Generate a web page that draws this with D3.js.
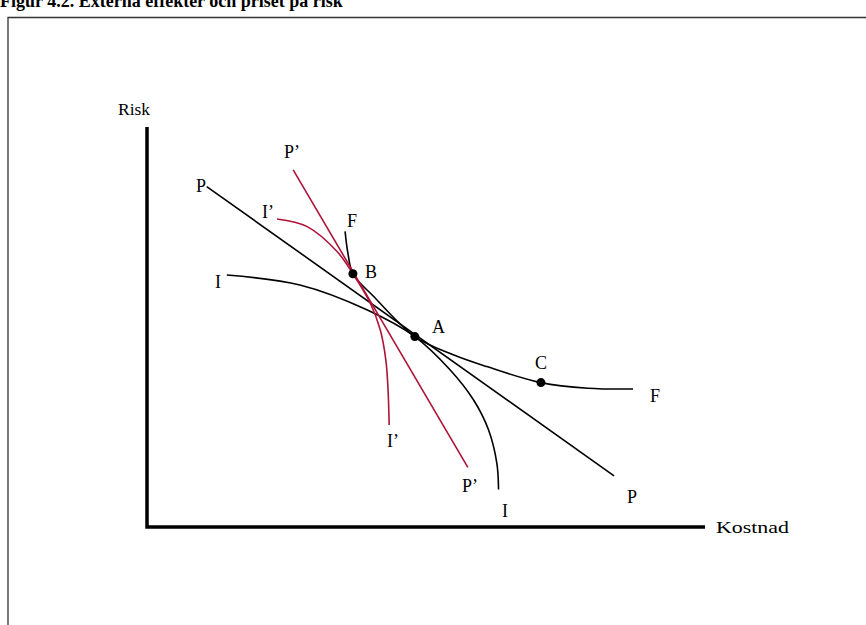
<!DOCTYPE html>
<html>
<head>
<meta charset="utf-8">
<script src="https://cdn.jsdelivr.net/npm/d3@7"></script>
<style>
  html, body { margin: 0; padding: 0; background: #fff; }
  svg { display: block; }
  text { font-family: "Liberation Serif", "Times New Roman", serif; fill: #000; }
</style>
</head>
<body>
<svg id="chart" width="866" height="625"></svg>
<script>
// ---- Data (Kostnad on x, Risk on y; arbitrary units 0–10) ----
const title = "Figur 4.2. Externa effekter och priset på risk";
const xLabel = "Kostnad";
const yLabel = "Risk";

// Price line P
const lineP = [[1.07, 8.51], [8.37, 1.28]];
// Price line P'
const linePprime = [[2.62, 8.93], [5.75, 1.49]];

// Frontier F
const curveF = [[3.55, 7.39], [3.60, 6.85], [3.69, 6.33], [4.05, 5.78], [4.80, 4.76],
                [5.50, 4.30], [6.09, 4.01], [7.06, 3.61], [7.90, 3.47], [8.71, 3.45]];
// Indifference curve I
const curveI = [[1.43, 6.30], [2.74, 6.05], [3.94, 5.43], [4.80, 4.76], [5.43, 3.93],
                [5.85, 3.18], [6.12, 2.43], [6.27, 1.59], [6.30, 0.94]];
// Indifference curve I'
const curveIprime = [[2.33, 7.70], [2.87, 7.51], [3.41, 6.88], [3.69, 6.33], [4.00, 5.60],
                     [4.18, 4.93], [4.28, 4.18], [4.32, 3.43], [4.34, 2.55]];

// Points
const pointNames = ["B", "A", "C"];
const pointX = [3.69, 4.80, 7.06];
const pointY = [6.33, 4.76, 3.61];

// Curve labels
const labelText = ["P’", "P", "I’", "F", "B", "I", "A", "C", "F", "I’", "P’", "P", "I"];
const labelX = [2.455, 0.878, 2.061, 3.584, 3.907, 1.219, 5.108, 6.953, 9.014, 4.301, 5.645, 8.602, 6.362];
const labelY = [9.225, 8.375, 7.725, 7.50, 6.225, 5.975, 4.85, 3.95, 3.125, 2.0, 0.875, 0.60, 0.25];

// ---- Drawing ----
const svg = d3.select("#chart");
const red = "#ad1438";

const x = d3.scaleLinear().domain([0, 10]).range([147, 705]);
const y = d3.scaleLinear().domain([0, 10]).range([527, 127]);

// Title (cut off at top as in the source)
svg.append("text")
  .attr("x", 0).attr("y", 7)
  .attr("font-size", 18).attr("font-weight", "bold")
  .text(title);

// Frame
svg.append("path")
  .attr("d", "M8,640 V17.5 H880")
  .attr("fill", "none").attr("stroke", "#333").attr("stroke-width", 1.3);

// Axes
svg.append("path")
  .attr("d", `M${x(0)},${y(10)} V${y(0)} H${x(10)}`)
  .attr("fill", "none").attr("stroke", "#000").attr("stroke-width", 3.5)
  .attr("stroke-linejoin", "miter");

svg.append("text").attr("x", x(0) - 29).attr("y", y(10) - 12)
  .attr("font-size", 17.5).text(yLabel);
svg.append("text").attr("x", x(10) + 11).attr("y", y(0) + 6)
  .attr("font-size", 17)
  .attr("textLength", 73).attr("lengthAdjust", "spacingAndGlyphs")
  .text(xLabel);

const straight = d3.line().x(d => x(d[0])).y(d => y(d[1]));
const smooth = d3.line().x(d => x(d[0])).y(d => y(d[1])).curve(d3.curveCatmullRom.alpha(0.5));

svg.append("path").attr("d", straight(lineP))
  .attr("fill", "none").attr("stroke", "#000").attr("stroke-width", 1.6);
svg.append("path").attr("d", smooth(curveI))
  .attr("fill", "none").attr("stroke", "#000").attr("stroke-width", 1.6);
svg.append("path").attr("d", smooth(curveF))
  .attr("fill", "none").attr("stroke", "#000").attr("stroke-width", 1.6);
svg.append("path").attr("d", straight(linePprime))
  .attr("fill", "none").attr("stroke", red).attr("stroke-width", 1.6);
svg.append("path").attr("d", smooth(curveIprime))
  .attr("fill", "none").attr("stroke", red).attr("stroke-width", 1.6);

svg.selectAll("circle.pt").data(pointNames).join("circle")
  .attr("class", "pt")
  .attr("cx", (d, i) => x(pointX[i]))
  .attr("cy", (d, i) => y(pointY[i]))
  .attr("r", 4.5).attr("fill", "#000");

svg.selectAll("text.lbl").data(labelText).join("text")
  .attr("class", "lbl")
  .attr("x", (d, i) => x(labelX[i]))
  .attr("y", (d, i) => y(labelY[i]))
  .attr("font-size", 18)
  .text(d => d);
</script>
</body>
</html>
